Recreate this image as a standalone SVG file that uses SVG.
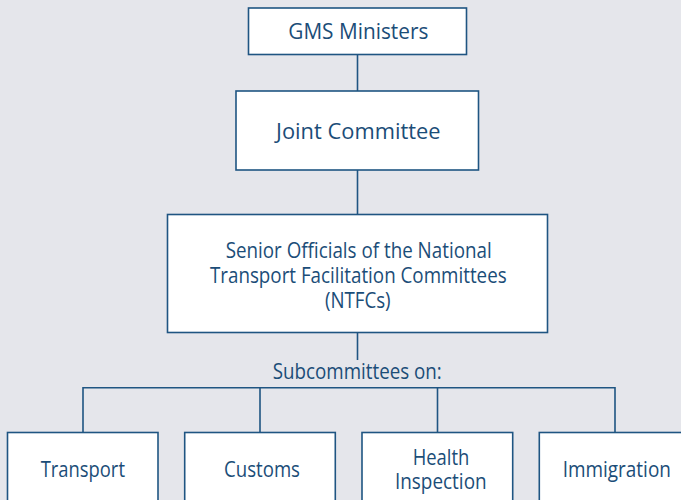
<svg xmlns="http://www.w3.org/2000/svg" width="681" height="500" viewBox="0 0 681 500">
  <style>
    .box { fill: #ffffff; stroke: #1f5582; stroke-width: 1.6; }
    .link { fill: none; stroke: #1f5582; stroke-width: 1.6; }
    .lbl { font-family: "Open Sans", "Noto Sans", "Liberation Sans", sans-serif; font-size: 21px; fill: #1b4d78; text-anchor: middle; }
  </style>
  <rect width="681" height="500" fill="#e5e6eb"/>

  <g id="connectors">
    <line class="link" x1="357.5" y1="54.5" x2="357.5" y2="91"/>
    <line class="link" x1="357.5" y1="170" x2="357.5" y2="214.5"/>
    <line class="link" x1="357.5" y1="332.5" x2="357.5" y2="360"/>
    <polyline class="link" points="83,432.5 83,387.7 615,387.7 615,432.5"/>
    <line class="link" x1="260" y1="387.7" x2="260" y2="432.5"/>
    <line class="link" x1="437.5" y1="387.7" x2="437.5" y2="432.5"/>
    <text class="lbl" x="357.3" y="378.8" textLength="169" lengthAdjust="spacingAndGlyphs">Subcommittees on:</text>
  </g>

  <g id="gms-ministers">
    <rect class="box" x="248.5" y="8" width="218" height="46.5"/>
    <text class="lbl" x="358.3" y="38.5" textLength="140" lengthAdjust="spacingAndGlyphs">GMS Ministers</text>
  </g>

  <g id="joint-committee">
    <rect class="box" x="236" y="91" width="242.5" height="79"/>
    <text class="lbl" x="358.3" y="139" textLength="164.5" lengthAdjust="spacingAndGlyphs">Joint Committee</text>
  </g>

  <g id="ntfc">
    <rect class="box" x="167.5" y="214.5" width="380" height="118"/>
    <text class="lbl" x="358.7" y="258.3" textLength="266" lengthAdjust="spacingAndGlyphs">Senior Officials of the National</text>
    <text class="lbl" x="358.3" y="283" textLength="296.7" lengthAdjust="spacingAndGlyphs">Transport Facilitation Committees</text>
    <text class="lbl" x="357.8" y="307.5" textLength="65.7" lengthAdjust="spacingAndGlyphs">(NTFCs)</text>
  </g>

  <g id="transport">
    <rect class="box" x="7.5" y="432.5" width="150.5" height="80"/>
    <text class="lbl" x="82.8" y="476.5" textLength="84.3" lengthAdjust="spacingAndGlyphs">Transport</text>
  </g>

  <g id="customs">
    <rect class="box" x="184.7" y="432.5" width="150.6" height="80"/>
    <text class="lbl" x="262" y="476.5" textLength="76" lengthAdjust="spacingAndGlyphs">Customs</text>
  </g>

  <g id="health-inspection">
    <rect class="box" x="362" y="432.5" width="150.7" height="80"/>
    <text class="lbl" x="441" y="465" textLength="56.7" lengthAdjust="spacingAndGlyphs">Health</text>
    <text class="lbl" x="440.8" y="488.5" textLength="91.7" lengthAdjust="spacingAndGlyphs">Inspection</text>
  </g>

  <g id="immigration">
    <rect class="box" x="539.3" y="432.5" width="150.7" height="80"/>
    <text class="lbl" x="616.8" y="476.5" textLength="108.3" lengthAdjust="spacingAndGlyphs">Immigration</text>
  </g>
</svg>
